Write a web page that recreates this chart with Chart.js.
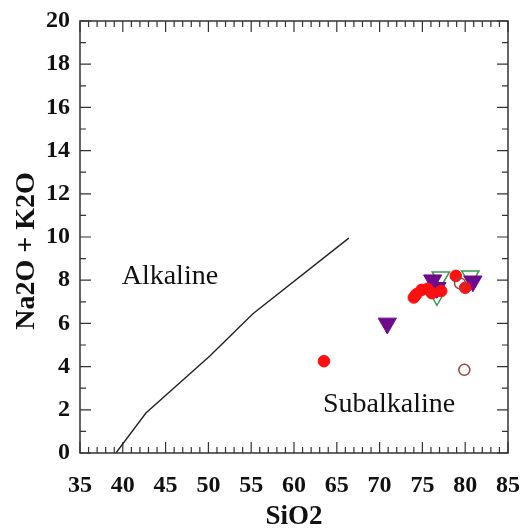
<!DOCTYPE html>
<html>
<head>
<meta charset="utf-8">
<script src="https://cdn.jsdelivr.net/npm/chart.js@4.4.1/dist/chart.umd.min.js"></script>
<style>
  html, body { margin: 0; padding: 0; background: #fff; }
  #wrap { width: 530px; height: 531px; }
</style>
</head>
<body>
<div id="wrap"><canvas id="tas" width="530" height="531"></canvas></div>
<script>
// Diagrama TAS: Na2O + K2O vs SiO2 (divisória Irvine & Baragar)
const xTicks = [35, 40, 45, 50, 55, 60, 65, 70, 75, 80, 85];
const yTicks = [0, 2, 4, 6, 8, 10, 12, 14, 16, 18, 20];

// linha alcalina / subalcalina
const divSiO2 = [39.2, 42.7, 50.2, 55.2, 66.4];
const divAlk  = [0, 1.85, 4.5, 6.45, 9.95];

// amostras
const redSiO2 = [63.5, 74.0, 74.3, 74.9, 75.6, 76.1, 77.2, 78.9, 80.0];
const redAlk  = [4.25, 7.2, 7.35, 7.55, 7.6, 7.4, 7.5, 8.2, 7.65];
const purpleSiO2 = [70.9, 76.2, 76.7, 80.9];
const purpleAlk  = [6.0, 8.0, 7.65, 7.95];
const greenSiO2 = [77.15, 76.7, 80.6];
const greenAlk  = [8.15, 7.3, 8.2];
const brownSiO2 = [79.4, 79.9];
const brownAlk  = [7.85, 3.85];

const fieldLabels = [
  { text: "Alkaline", x: 45.5, y: 8.15 },
  { text: "Subalkaline", x: 71.1, y: 2.25 },
];

const C = { ink: "#111", frame: "#333", line: "#222", red: "#ff1010", purple: "#6e0a8c",
  green: "#3c9a50", brown: "#9a4646" };
const SERIF = '"Liberation Serif", "Times New Roman", serif';

const pts = (xs, ys) => xs.map((x, i) => ({ x, y: ys[i] }));

const frame = {
  id: "frame",
  beforeDatasetsDraw(chart) {
    const { ctx, chartArea: a, scales: { x, y } } = chart;
    ctx.save();
    ctx.strokeStyle = C.frame;
    ctx.lineWidth = 1.5;
    ctx.strokeRect(a.left, a.top, a.right - a.left, a.bottom - a.top);
    ctx.lineWidth = 1.2;
    ctx.beginPath();
    for (let v = x.min; v <= x.max; v += 1) {
      const p = x.getPixelForValue(v), len = v % 5 === 0 ? 11 : 6;
      ctx.moveTo(p, a.bottom); ctx.lineTo(p, a.bottom - len);
      ctx.moveTo(p, a.top); ctx.lineTo(p, a.top + len);
    }
    for (let v = y.min; v <= y.max; v += 1) {
      const p = y.getPixelForValue(v), len = v % 2 === 0 ? 11 : 6;
      ctx.moveTo(a.left, p); ctx.lineTo(a.left + len, p);
      ctx.moveTo(a.right, p); ctx.lineTo(a.right - len, p);
    }
    ctx.stroke();

    ctx.fillStyle = C.ink;
    ctx.font = `28px ${SERIF}`;
    ctx.textAlign = "center";
    ctx.textBaseline = "middle";
    fieldLabels.forEach((l) => ctx.fillText(l.text, x.getPixelForValue(l.x), y.getPixelForValue(l.y)));

    // título do eixo y
    ctx.translate(27, 251);
    ctx.rotate(-Math.PI / 2);
    ctx.font = `bold 28px ${SERIF}`;
    ctx.fillText("Na2O + K2O", 0, 0);
    ctx.restore();
  },
};

const tickFont = { family: SERIF, size: 24, weight: "bold" };

new Chart(document.getElementById("tas"), {
  type: "scatter",
  data: {
    datasets: [
      { label: "divisória", type: "line", data: pts(divSiO2, divAlk), borderColor: C.line,
        borderWidth: 1.4, pointRadius: 0, fill: false, tension: 0, order: 4 },
      { label: "A", data: pts(greenSiO2, greenAlk), pointStyle: "triangle", rotation: 180,
        pointRadius: 10, backgroundColor: "rgba(0,0,0,0)", borderColor: C.green, borderWidth: 1.5, order: 3 },
      { label: "B", data: pts(purpleSiO2, purpleAlk), pointStyle: "triangle", rotation: 180,
        pointRadius: 10.5, backgroundColor: C.purple, borderColor: C.purple, borderWidth: 1, order: 2 },
      { label: "C", data: pts(redSiO2, redAlk), pointStyle: "circle",
        pointRadius: 5.8, backgroundColor: C.red, borderColor: C.red, borderWidth: 1, order: 1 },
      { label: "D", data: pts(brownSiO2, brownAlk), pointStyle: "circle",
        pointRadius: 5.5, backgroundColor: "rgba(0,0,0,0)", borderColor: C.brown, borderWidth: 1.5, order: 0 },
    ],
  },
  options: {
    responsive: false, animation: false, devicePixelRatio: 1,
    layout: { padding: { top: 21, right: 22, left: 0, bottom: 0 } },
    plugins: { legend: { display: false }, tooltip: { enabled: false } },
    scales: {
      x: {
        type: "linear", min: 35, max: 85,
        afterBuildTicks: (s) => { s.ticks = xTicks.map((v) => ({ value: v })); },
        afterFit: (s) => { s.height = 78; s.paddingLeft = 0; s.paddingRight = 0; },
        grid: { display: false, drawTicks: false }, border: { display: false },
        ticks: { font: tickFont, color: C.ink, padding: 18, maxRotation: 0 },
        title: { display: true, text: "SiO2", color: C.ink, padding: { top: 0, bottom: 0 },
          font: { family: SERIF, size: 27, weight: "bold", lineHeight: 1 } },
      },
      y: {
        type: "linear", min: 0, max: 20,
        afterBuildTicks: (s) => { s.ticks = yTicks.map((v) => ({ value: v })); },
        afterFit: (s) => { s.width = 80; s.paddingTop = 0; s.paddingBottom = 0; },
        grid: { display: false, drawTicks: false }, border: { display: false },
        ticks: { font: tickFont, color: C.ink, padding: 10 },
      },
    },
  },
  plugins: [frame],
});
</script>
</body>
</html>
